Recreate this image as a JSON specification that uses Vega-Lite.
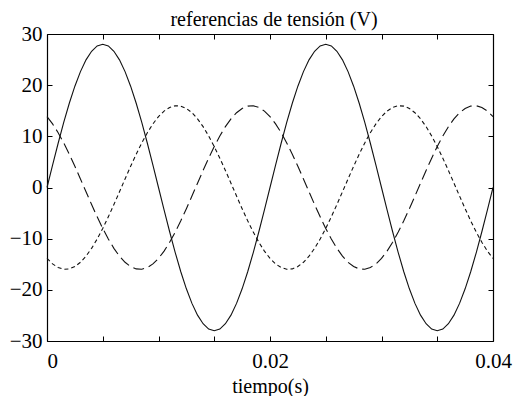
{
  "$schema": "https://vega.github.io/schema/vega-lite/v6.json",
  "width": 446,
  "height": 307,
  "autosize": "none",
  "padding": {"left": 47, "top": 34, "right": 24, "bottom": 55},
  "background": "white",
  "title": {
    "text": "referencias de tensión (V)",
    "font": "Liberation Serif",
    "fontSize": 20,
    "fontWeight": "normal",
    "color": "#000",
    "baseline": "alphabetic",
    "anchor": "middle",
    "offset": 7,
    "dy": 30,
    "dx": 4
  },
  "data": {
    "values": [
      {"t": 0, "a": 0, "b": -13.86, "c": 13.86},
      {"t": 0.0005, "a": 4.38, "b": -14.94, "c": 12.43},
      {"t": 0.001, "a": 8.65, "b": -15.65, "c": 10.71},
      {"t": 0.0015, "a": 12.71, "b": -15.98, "c": 8.71},
      {"t": 0.002, "a": 16.46, "b": -15.91, "c": 6.51},
      {"t": 0.0025, "a": 19.8, "b": -15.45, "c": 4.14},
      {"t": 0.003, "a": 22.65, "b": -14.62, "c": 1.67},
      {"t": 0.0035, "a": 24.95, "b": -13.42, "c": -0.84},
      {"t": 0.004, "a": 26.63, "b": -11.89, "c": -3.33},
      {"t": 0.0045, "a": 27.66, "b": -10.07, "c": -5.73},
      {"t": 0.005, "a": 28, "b": -8.0, "c": -8.0},
      {"t": 0.0055, "a": 27.66, "b": -5.73, "c": -10.07},
      {"t": 0.006, "a": 26.63, "b": -3.33, "c": -11.89},
      {"t": 0.0065, "a": 24.95, "b": -0.84, "c": -13.42},
      {"t": 0.007, "a": 22.65, "b": 1.67, "c": -14.62},
      {"t": 0.0075, "a": 19.8, "b": 4.14, "c": -15.45},
      {"t": 0.008, "a": 16.46, "b": 6.51, "c": -15.91},
      {"t": 0.0085, "a": 12.71, "b": 8.71, "c": -15.98},
      {"t": 0.009, "a": 8.65, "b": 10.71, "c": -15.65},
      {"t": 0.0095, "a": 4.38, "b": 12.43, "c": -14.94},
      {"t": 0.01, "a": 0, "b": 13.86, "c": -13.86},
      {"t": 0.0105, "a": -4.38, "b": 14.94, "c": -12.43},
      {"t": 0.011, "a": -8.65, "b": 15.65, "c": -10.71},
      {"t": 0.0115, "a": -12.71, "b": 15.98, "c": -8.71},
      {"t": 0.012, "a": -16.46, "b": 15.91, "c": -6.51},
      {"t": 0.0125, "a": -19.8, "b": 15.45, "c": -4.14},
      {"t": 0.013, "a": -22.65, "b": 14.62, "c": -1.67},
      {"t": 0.0135, "a": -24.95, "b": 13.42, "c": 0.84},
      {"t": 0.014, "a": -26.63, "b": 11.89, "c": 3.33},
      {"t": 0.0145, "a": -27.66, "b": 10.07, "c": 5.73},
      {"t": 0.015, "a": -28, "b": 8.0, "c": 8.0},
      {"t": 0.0155, "a": -27.66, "b": 5.73, "c": 10.07},
      {"t": 0.016, "a": -26.63, "b": 3.33, "c": 11.89},
      {"t": 0.0165, "a": -24.95, "b": 0.84, "c": 13.42},
      {"t": 0.017, "a": -22.65, "b": -1.67, "c": 14.62},
      {"t": 0.0175, "a": -19.8, "b": -4.14, "c": 15.45},
      {"t": 0.018, "a": -16.46, "b": -6.51, "c": 15.91},
      {"t": 0.0185, "a": -12.71, "b": -8.71, "c": 15.98},
      {"t": 0.019, "a": -8.65, "b": -10.71, "c": 15.65},
      {"t": 0.0195, "a": -4.38, "b": -12.43, "c": 14.94},
      {"t": 0.02, "a": 0, "b": -13.86, "c": 13.86},
      {"t": 0.0205, "a": 4.38, "b": -14.94, "c": 12.43},
      {"t": 0.021, "a": 8.65, "b": -15.65, "c": 10.71},
      {"t": 0.0215, "a": 12.71, "b": -15.98, "c": 8.71},
      {"t": 0.022, "a": 16.46, "b": -15.91, "c": 6.51},
      {"t": 0.0225, "a": 19.8, "b": -15.45, "c": 4.14},
      {"t": 0.023, "a": 22.65, "b": -14.62, "c": 1.67},
      {"t": 0.0235, "a": 24.95, "b": -13.42, "c": -0.84},
      {"t": 0.024, "a": 26.63, "b": -11.89, "c": -3.33},
      {"t": 0.0245, "a": 27.66, "b": -10.07, "c": -5.73},
      {"t": 0.025, "a": 28, "b": -8.0, "c": -8.0},
      {"t": 0.0255, "a": 27.66, "b": -5.73, "c": -10.07},
      {"t": 0.026, "a": 26.63, "b": -3.33, "c": -11.89},
      {"t": 0.0265, "a": 24.95, "b": -0.84, "c": -13.42},
      {"t": 0.027, "a": 22.65, "b": 1.67, "c": -14.62},
      {"t": 0.0275, "a": 19.8, "b": 4.14, "c": -15.45},
      {"t": 0.028, "a": 16.46, "b": 6.51, "c": -15.91},
      {"t": 0.0285, "a": 12.71, "b": 8.71, "c": -15.98},
      {"t": 0.029, "a": 8.65, "b": 10.71, "c": -15.65},
      {"t": 0.0295, "a": 4.38, "b": 12.43, "c": -14.94},
      {"t": 0.03, "a": 0, "b": 13.86, "c": -13.86},
      {"t": 0.0305, "a": -4.38, "b": 14.94, "c": -12.43},
      {"t": 0.031, "a": -8.65, "b": 15.65, "c": -10.71},
      {"t": 0.0315, "a": -12.71, "b": 15.98, "c": -8.71},
      {"t": 0.032, "a": -16.46, "b": 15.91, "c": -6.51},
      {"t": 0.0325, "a": -19.8, "b": 15.45, "c": -4.14},
      {"t": 0.033, "a": -22.65, "b": 14.62, "c": -1.67},
      {"t": 0.0335, "a": -24.95, "b": 13.42, "c": 0.84},
      {"t": 0.034, "a": -26.63, "b": 11.89, "c": 3.33},
      {"t": 0.0345, "a": -27.66, "b": 10.07, "c": 5.73},
      {"t": 0.035, "a": -28, "b": 8.0, "c": 8.0},
      {"t": 0.0355, "a": -27.66, "b": 5.73, "c": 10.07},
      {"t": 0.036, "a": -26.63, "b": 3.33, "c": 11.89},
      {"t": 0.0365, "a": -24.95, "b": 0.84, "c": 13.42},
      {"t": 0.037, "a": -22.65, "b": -1.67, "c": 14.62},
      {"t": 0.0375, "a": -19.8, "b": -4.14, "c": 15.45},
      {"t": 0.038, "a": -16.46, "b": -6.51, "c": 15.91},
      {"t": 0.0385, "a": -12.71, "b": -8.71, "c": 15.98},
      {"t": 0.039, "a": -8.65, "b": -10.71, "c": 15.65},
      {"t": 0.0395, "a": -4.38, "b": -12.43, "c": 14.94},
      {"t": 0.04, "a": 0, "b": -13.86, "c": 13.86}
    ]
  },
  "layer": [
    {
      "mark": {"type": "line", "color": "#111", "strokeWidth": 1.1},
      "encoding": {
        "x": {
          "field": "t", "type": "quantitative",
          "scale": {"domain": [0, 0.04], "nice": false, "zero": false},
          "axis": {
            "orient": "bottom",
            "title": "tiempo(s)",
            "values": [0, 0.005, 0.01, 0.015, 0.02, 0.025, 0.03, 0.035, 0.04],
            "format": "~g",
            "labelExpr": "(datum.label == '0' || datum.label == '0.02' || datum.label == '0.04') ? datum.label : ''",
            "labelAlign": {"condition": {"test": "datum.value === 0", "value": "left"}, "value": "center"},
            "labelPadding": 14,
            "titlePadding": 5
          }
        },
        "y": {
          "field": "a", "type": "quantitative",
          "scale": {"domain": [-30, 30], "nice": false},
          "axis": {
            "orient": "left",
            "title": null,
            "values": [-30, -20, -10, 0, 10, 20, 30],
            "labelPadding": 10
          }
        }
      }
    },
    {
      "mark": {"type": "line", "color": "#111", "strokeWidth": 1.1, "strokeDash": [4, 3]},
      "encoding": {
        "x": {
          "field": "t", "type": "quantitative",
          "axis": {
            "orient": "top",
            "title": null,
            "labels": false,
            "values": [0, 0.005, 0.01, 0.015, 0.02, 0.025, 0.03, 0.035, 0.04]
          }
        },
        "y": {
          "field": "b", "type": "quantitative",
          "axis": {
            "orient": "right",
            "title": null,
            "labels": false,
            "values": [-30, -20, -10, 0, 10, 20, 30]
          }
        }
      }
    },
    {
      "mark": {"type": "line", "color": "#111", "strokeWidth": 1.1, "strokeDash": [11, 5]},
      "encoding": {
        "x": {"field": "t", "type": "quantitative", "axis": null},
        "y": {"field": "c", "type": "quantitative", "axis": null}
      }
    }
  ],
  "resolve": {"axis": {"x": "independent", "y": "independent"}},
  "config": {
    "font": "Liberation Serif",
    "view": {"stroke": null},
    "axis": {
      "grid": false,
      "domainColor": "#000",
      "domainWidth": 1.2,
      "tickColor": "#000",
      "tickSize": -5,
      "labelFont": "Liberation Serif",
      "labelFontSize": 21,
      "labelColor": "#000",
      "titleFont": "Liberation Serif",
      "titleFontSize": 20,
      "titleFontWeight": "normal",
      "titleColor": "#000"
    }
  }
}
